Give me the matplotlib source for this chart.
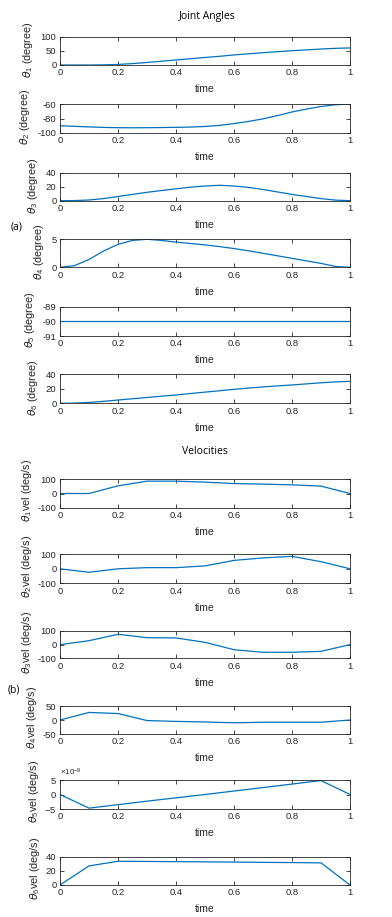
import matplotlib
matplotlib.use("Agg")
import matplotlib.pyplot as plt
from matplotlib.ticker import ScalarFormatter

W, H = 392, 917
fig = plt.figure(figsize=(W / 100, H / 100), dpi=100)
plt.rcParams['font.family'] = ['Liberation Sans', 'DejaVu Sans']
plt.rcParams['mathtext.fontset'] = 'custom'
plt.rcParams['mathtext.it'] = 'DejaVu Sans:italic'
plt.rcParams['mathtext.rm'] = 'Liberation Sans'
plt.rcParams['axes.unicode_minus'] = False

BLUE = '#0072BD'

# ---------------- data ----------------
t_fine = [0, 0.05, 0.1, 0.15, 0.2, 0.25, 0.3, 0.35, 0.4, 0.45, 0.5,
          0.55, 0.6, 0.65, 0.7, 0.75, 0.8, 0.85, 0.9, 0.95, 1.0]
theta1 = [0, 0, 0, 0.5, 2, 5, 9, 13.5, 18, 22.5, 27, 31, 36, 40, 44, 47.5, 51, 54, 57, 59.5, 61]
theta2 = [-90, -90.8, -91.6, -92.3, -92.7, -92.8, -92.7, -92.5, -92.2, -91.8, -91, -89.5,
          -87, -84, -80.5, -76, -71, -67, -63.5, -61, -60]
theta3 = [0, 0.2, 1, 3, 6, 9, 12, 14.5, 17, 19.3, 21, 22, 21, 19, 16, 12.5, 9, 6, 3, 0.8, 0]
theta4 = [0, 0.3, 1.4, 2.9, 4.1, 4.8, 5.0, 4.8, 4.5, 4.25, 4.0, 3.7, 3.35, 2.95, 2.5, 2.05,
          1.6, 1.15, 0.7, 0.15, 0]
theta5 = [-90] * 21
theta6 = [0, 0.3, 1.2, 2.7, 4.5, 6.3, 8.0, 9.8, 11.5, 13.5, 15.4, 17.3, 19.3, 21, 22.6, 24,
          25.3, 26.8, 28.3, 29.5, 30.3]

t_vel = [0, 0.1, 0.2, 0.3, 0.4, 0.5, 0.6, 0.7, 0.8, 0.9, 1.0]
vel1 = [0, 0, 54, 87, 87, 80, 70, 66, 61, 52, 0]
vel2 = [0, -24, 0, 8, 8, 20, 58, 75, 86, 49, 0]
vel3 = [0, 29, 76, 51, 49, 17, -37, -56, -56, -49, 0]
vel4 = [0, 27, 23, -2, -5, -7, -10, -8, -8, -8, 0]
vel5 = [0, -4.7e-9, -3.5e-9, -2.3e-9, -1.15e-9, 0, 1.2e-9, 2.4e-9, 3.6e-9, 4.8e-9, 0]
vel6 = [0, 27, 33.5, 33.3, 33, 32.7, 32.4, 32, 31.7, 31.3, 0]

x_ticks = [0, 0.2, 0.4, 0.6, 0.8, 1]
x_ticklabels = ['0', '0.2', '0.4', '0.6', '0.8', '1']

angle_panels = [
    (theta1, (0, 100), [0, 50, 100], r'$\theta_{1}$ (degree)', (37, 65)),
    (theta2, (-100, -60), [-100, -80, -60], r'$\theta_{2}$ (degree)', (104, 133)),
    (theta3, (0, 40), [0, 20, 40], r'$\theta_{3}$ (degree)', (172.7, 200.7)),
    (theta4, (0, 5), [0, 5], r'$\theta_{4}$ (degree)', (239.3, 267.3)),
    (theta5, (-91, -89), [-91, -90, -89], r'$\theta_{5}$ (degree)', (306.7, 336)),
    (theta6, (0, 40), [0, 20, 40], r'$\theta_{6}$ (degree)', (374.3, 403.3)),
]
vel_panels = [
    (vel1, (-100, 100), [-100, 0, 100], r'$\theta_{1}$vel (deg/s)', (479.3, 507.7)),
    (vel2, (-100, 100), [-100, 0, 100], r'$\theta_{2}$vel (deg/s)', (554.3, 583.3)),
    (vel3, (-100, 100), [-100, 0, 100], r'$\theta_{3}$vel (deg/s)', (631, 658.3)),
    (vel4, (-50, 50), [-50, 0, 50], r'$\theta_{4}$vel (deg/s)', (706, 734)),
    (vel5, (-5e-9, 5e-9), [-5e-9, 0, 5e-9], r'$\theta_{5}$vel (deg/s)', (780, 809)),
    (vel6, (0, 40), [0, 20, 40], r'$\theta_{6}$vel (deg/s)', (856.7, 885)),
]

L, R = 60, 350
FS = 6.8


def make_ax(top, bot):
    return fig.add_axes([L / W, 1 - bot / H, (R - L) / W, (bot - top) / H])


def style(ax, ylim, yticks, ylabel, labely, labelpad):
    ax.set_xlim(0, 1)
    ax.set_ylim(*ylim)
    ax.set_xticks(x_ticks)
    ax.set_xticklabels(x_ticklabels)
    ax.set_yticks(yticks)
    ax.tick_params(direction='in', top=True, right=True, length=3, width=0.6,
                   labelsize=FS, colors='#262626', pad=2.5)
    for s in ax.spines.values():
        s.set_linewidth(0.6)
        s.set_color('#262626')
    ax.set_xlabel('time', fontsize=7.5, color='#262626', labelpad=5)
    ax.set_ylabel(ylabel, fontsize=7.8, color='#262626', labelpad=labelpad)
    ax.yaxis.label.set_y(labely)


for vals, ylim, yt, yl, (top, bot) in angle_panels:
    ax = make_ax(top, bot)
    ax.plot(t_fine, vals, color=BLUE, lw=0.9)
    style(ax, ylim, yt, yl, 0.55, 4)

for vals, ylim, yt, yl, (top, bot) in vel_panels:
    ax = make_ax(top, bot)
    ax.plot(t_vel, vals, color=BLUE, lw=0.9)
    style(ax, ylim, yt, yl, 0.6, 2.5)
    if ylim[1] < 1e-6:
        fmt = ScalarFormatter(useMathText=True)
        fmt.set_powerlimits((0, 0))
        ax.yaxis.set_major_formatter(fmt)
        ax.yaxis.get_offset_text().set_fontsize(FS - 1)
        ax.yaxis.get_offset_text().set_color('#262626')

TF = ['Open Sans', 'DejaVu Sans']
fig.text(207 / W, 1 - 17 / H, 'Joint Angles', ha='center', va='center', fontsize=7.5, family=TF)
fig.text(205 / W, 1 - 452 / H, 'Velocities', ha='center', va='center', fontsize=7.5, family=TF)
fig.text(17 / W, 1 - 227 / H, '(a)', ha='center', va='center', fontsize=7.5, family=TF)
fig.text(14 / W, 1 - 690 / H, '(b)', ha='center', va='center', fontsize=7.5, family=TF)

fig.savefig('out.png', dpi=100)
